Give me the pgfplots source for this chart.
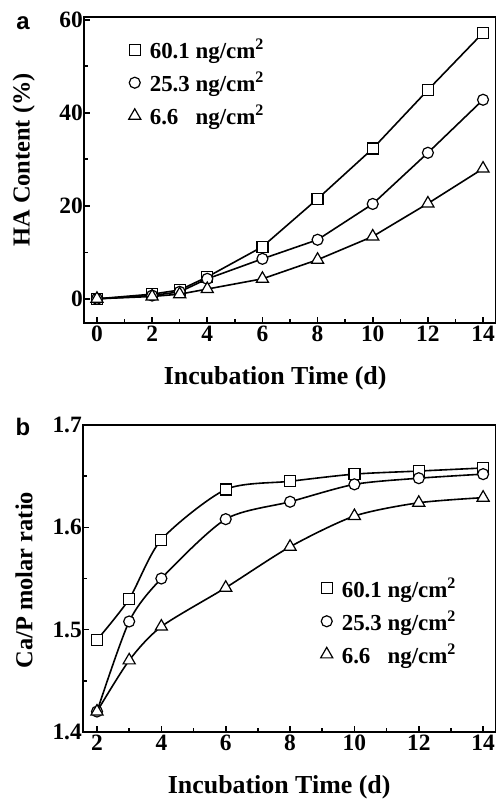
\documentclass[border=0pt]{standalone}
\usepackage{pgfplots}
\pgfplotsset{compat=1.18}
\usepackage{fontspec}
\setmainfont{Liberation Serif}
\setsansfont{Liberation Sans}

\pgfplotsset{
  common/.style={
    scale only axis,
    anchor=south west,
    axis line style={line width=2.2bp},
    tick pos=left,
    tick align=inside,
    major tick length=6bp,
    minor tick length=4bp,
    every tick/.style={black, line width=1.6bp},
    /pgf/number format/assume math mode=true,
    tick label style={font=\fontsize{23.5}{23.5}\selectfont\bfseries},
    yticklabel style={inner sep=1bp},
    xticklabel style={inner sep=3bp},
    xlabel style={font=\fontsize{26}{26}\selectfont\bfseries, anchor=center},
    ylabel style={font=\fontsize{24.5}{24.5}\selectfont\bfseries, anchor=center},
    legend style={draw=none, fill=none, font=\fontsize{23}{23}\selectfont\bfseries, row sep=8bp, inner sep=0pt,
      /tikz/every odd column/.append style={column sep=7bp}},
    legend cell align=left,
    legend image code/.code={\draw[##1] plot coordinates {(0.2cm,0cm)};},
    every axis plot/.append style={black, line width=1.6bp},
    minor x tick num=1,
    minor y tick num=1,
  },
  sq/.style={mark=square*, mark size=5.5bp, mark options={fill=white, line width=1.2bp, solid}},
  ci/.style={mark=*, mark size=5.5bp, mark options={fill=white, line width=1.2bp, solid}},
  tr/.style={mark=triangle*, mark size=7bp, mark options={fill=white, line width=1.2bp, solid}},
}

\begin{document}
\begin{tikzpicture}
\useasboundingbox (0,0) rectangle (496bp,799bp);

% Panel a
\begin{axis}[common,
  at={(84bp,476bp)}, width=412bp, height=306bp,
  xmin=-0.47, xmax=14.47, ymin=-5.2, ymax=60.6,
  xtick={0,2,4,6,8,10,12,14},
  ytick={0,20,40,60},
  xlabel={Incubation Time (d)},
  ylabel={HA Content (\%)},
  xlabel style={at={(axis description cs:0.464,-0.18)}},
  ylabel style={at={(axis description cs:-0.146,0.533)}},
  legend style={at={(0.108,0.935)}, anchor=north west},
]
\addplot[sq] coordinates {(0,0) (2,1.0) (3,1.9) (4,4.7) (6,11.2) (8,21.5) (10,32.3) (12,44.9) (14,57.2)};
\addlegendentry{60.1 ng/cm\textsuperscript{2}}
\addplot[ci] coordinates {(0,0) (2,0.7) (3,1.5) (4,4.3) (6,8.6) (8,12.7) (10,20.4) (12,31.4) (14,42.8)};
\addlegendentry{25.3 ng/cm\textsuperscript{2}}
\addplot[tr] coordinates {(0,0) (2,0.5) (3,1.0) (4,2.1) (6,4.3) (8,8.4) (10,13.4) (12,20.5) (14,28.0)};
\addlegendentry{6.6\hphantom{0} ng/cm\textsuperscript{2}}
\end{axis}

% Panel b
\begin{axis}[common,
  at={(83bp,67bp)}, width=413bp, height=307bp,
  xmin=1.565, xmax=14.4, ymin=1.4, ymax=1.7,
  xtick={2,4,6,8,10,12,14},
  ytick={1.4,1.5,1.6,1.7},
  yticklabel style={/pgf/number format/.cd, fixed, precision=1, fixed zerofill},
  xlabel={Incubation Time (d)},
  ylabel={Ca/P molar ratio},
  xlabel style={at={(axis description cs:0.475,-0.179)}},
  ylabel style={at={(axis description cs:-0.143,0.495)}},
  legend style={at={(0.575,0.51)}, anchor=north west},
]
\addplot[sq, smooth, tension=0.45] coordinates {(2,1.490) (3,1.530) (4,1.588) (6,1.637) (8,1.645) (10,1.652) (12,1.655) (14,1.658)};
\addlegendentry{60.1 ng/cm\textsuperscript{2}}
\addplot[ci, smooth, tension=0.45] coordinates {(2,1.420) (3,1.508) (4,1.550) (6,1.608) (8,1.625) (10,1.642) (12,1.648) (14,1.652)};
\addlegendentry{25.3 ng/cm\textsuperscript{2}}
\addplot[tr, smooth, tension=0.45] coordinates {(2,1.420) (3,1.470) (4,1.503) (6,1.541) (8,1.581) (10,1.611) (12,1.624) (14,1.629)};
\addlegendentry{6.6\hphantom{0} ng/cm\textsuperscript{2}}
\end{axis}

\node[font=\fontsize{24}{24}\selectfont\sffamily\bfseries] at (23bp,776bp) {a};
\node[font=\fontsize{24}{24}\selectfont\sffamily\bfseries] at (23bp,372bp) {b};
\end{tikzpicture}
\end{document}
